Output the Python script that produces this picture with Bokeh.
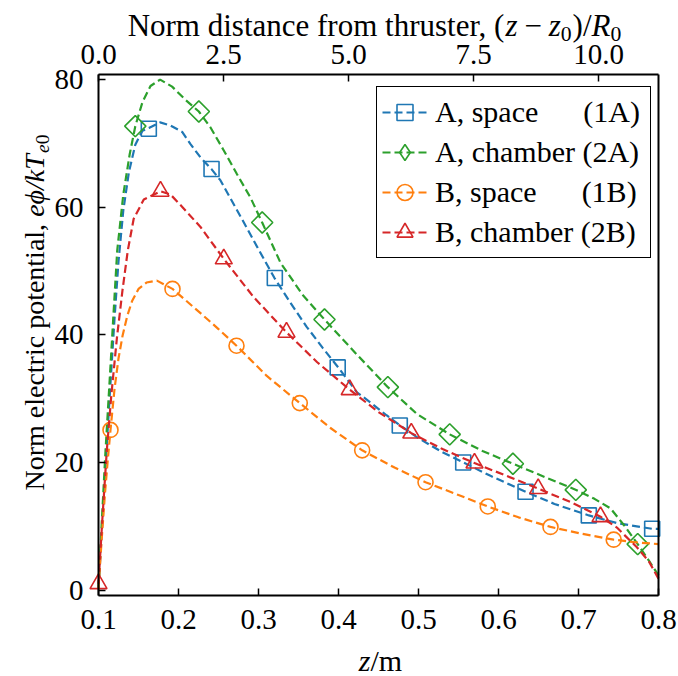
import numpy as np
from bokeh.plotting import figure
from bokeh.models import (Range1d, LinearAxis, FixedTicker, NumeralTickFormatter,
                          Label, Legend, LegendItem)
from bokeh.embed import file_html
from bokeh.resources import INLINE

# ---------------- data ----------------
R0 = 0.0625  # m, normalising length for the top axis
Z0 = 0.1     # m

X_LIM = (0.1, 0.8)
Y_LIM = (-0.85, 80.8)

# A, space (1A)
z_1a = [0.100, 0.105, 0.110, 0.115, 0.120, 0.125, 0.131, 0.138, 0.146, 0.155, 0.163,
        0.177, 0.190, 0.2046, 0.215, 0.2275, 0.241, 0.2525, 0.280, 0.300, 0.320, 0.340,
        0.360, 0.380, 0.399, 0.423, 0.440, 0.460, 0.477, 0.500, 0.530, 0.556, 0.590,
        0.634, 0.670, 0.713, 0.748, 0.792, 0.800]
phi_1a = [0.3, 11.0, 22.0, 32.5, 42.5, 51.5, 59.5, 65.5, 69.8, 72.0, 72.4,
          73.3, 72.8, 71.8, 69.9, 67.8, 66.0, 64.2, 58.0, 53.4, 48.9, 45.0,
          41.3, 38.0, 35.0, 31.0, 29.4, 27.4, 25.8, 23.8, 21.6, 20.0, 17.9,
          15.4, 13.5, 11.7, 10.5, 9.6, 9.6]
z_1a_mk = [0.1629, 0.2413, 0.3204, 0.399, 0.4766, 0.5559, 0.6338, 0.7129, 0.7921]
phi_1a_mk = [72.3, 66.0, 48.9, 34.9, 25.8, 20.0, 15.4, 11.7, 9.6]

# A, chamber (2A)
z_2a = [0.100, 0.104, 0.1088, 0.114, 0.119, 0.1234, 0.131, 0.139, 0.146, 0.155, 0.165,
        0.177, 0.192, 0.209, 0.2254, 0.240, 0.2566, 0.273, 0.290, 0.3046, 0.3275, 0.355,
        0.3825, 0.423, 0.4617, 0.498, 0.539, 0.580, 0.618, 0.660, 0.697, 0.720, 0.740,
        0.7567, 0.774, 0.788, 0.800]
phi_2a = [0.3, 10.5, 21.9, 33.0, 43.8, 53.2, 62.0, 68.3, 72.7, 76.5, 79.0,
          80.0, 78.9, 76.8, 75.0, 72.5, 68.9, 65.2, 61.5, 57.6, 51.3, 46.3,
          42.4, 36.9, 31.8, 27.6, 24.4, 21.8, 19.8, 17.6, 15.7, 14.3, 12.8,
          10.2, 7.2, 4.6, 2.3]
z_2a_mk = [0.146, 0.2254, 0.3046, 0.3825, 0.4617, 0.539, 0.618, 0.6966, 0.774]
phi_2a_mk = [72.7, 75.0, 57.6, 42.4, 31.8, 24.4, 19.8, 15.7, 7.2]

# B, space (1B)
z_1b = [0.100, 0.104, 0.108, 0.112, 0.115, 0.120, 0.125, 0.130, 0.136, 0.142, 0.150,
        0.160, 0.173, 0.1925, 0.210, 0.2275, 0.250, 0.2725, 0.310, 0.3516, 0.390,
        0.4296, 0.470, 0.5088, 0.550, 0.5866, 0.625, 0.665, 0.705, 0.744, 0.770, 0.800]
phi_1b = [0.3, 8.0, 15.0, 21.0, 25.1, 31.5, 36.3, 39.8, 43.0, 45.3, 47.2,
          48.2, 48.5, 47.2, 45.3, 43.4, 40.9, 38.3, 33.6, 29.3, 25.4,
          21.9, 19.2, 16.9, 14.9, 13.1, 11.4, 9.9, 8.8, 7.9, 7.5, 7.2]
z_1b_mk = [0.115, 0.1925, 0.2725, 0.3516, 0.4296, 0.5088, 0.5866, 0.665, 0.744]
phi_1b_mk = [25.1, 47.2, 38.3, 29.3, 21.9, 16.9, 13.1, 9.9, 7.9]

# B, chamber (2B)
z_2b = [0.100, 0.105, 0.1104, 0.116, 0.123, 0.130, 0.1366, 0.144, 0.1566, 0.1775, 0.190,
        0.205, 0.2275, 0.2566, 0.294, 0.335, 0.3734, 0.414, 0.450, 0.491, 0.530,
        0.570, 0.610, 0.6496, 0.690, 0.7275, 0.748, 0.773, 0.788, 0.800]
phi_2b = [1.0, 11.5, 21.9, 30.5, 39.5, 47.0, 53.2, 58.2, 61.2, 62.5, 62.0,
          60.0, 56.9, 51.9, 45.9, 40.4, 35.7, 31.4, 27.9, 24.6, 22.1,
          19.9, 17.9, 15.9, 13.8, 11.5, 9.8, 6.7, 4.5, 1.8]
z_2b_mk = [0.100, 0.1775, 0.2566, 0.335, 0.414, 0.491, 0.570, 0.6496, 0.7275]
phi_2b_mk = [1.0, 62.5, 51.9, 40.4, 31.4, 24.6, 19.9, 15.9, 11.5]

labels = ["A, space\u00a0\u00a0\u00a0\u00a0\u00a0\u00a0(1A)",
          "A, chamber (2A)",
          "B, space\u00a0\u00a0\u00a0\u00a0\u00a0\u00a0(1B)",
          "B, chamber (2B)"]
x_ticks = [0.1, 0.2, 0.3, 0.4, 0.5, 0.6, 0.7, 0.8]
y_ticks = [0, 20, 40, 60, 80]
top_ticks = [0.0, 2.5, 5.0, 7.5, 10.0]

# ---------------- layout (pixel box of the axes inside the canvas) ----------------
W, H = 678, 676
BOX_L, BOX_R, BOX_T, BOX_B = 98, 658, 74, 595
sx = (BOX_R - BOX_L) / (X_LIM[1] - X_LIM[0])
sy = (BOX_B - BOX_T) / (Y_LIM[1] - Y_LIM[0])
x_range = Range1d(X_LIM[0] - BOX_L / sx, X_LIM[1] + (W - BOX_R) / sx)
y_range = Range1d(Y_LIM[0] - (H - BOX_B) / sy, Y_LIM[1] + BOX_T / sy)

FONT = "Liberation Serif"
BLUE, ORANGE, GREEN, RED = "#1f77b4", "#ff7f0e", "#2ca02c", "#d62728"

p = figure(width=W, height=H, output_backend="svg", toolbar_location=None,
           x_range=x_range, y_range=y_range,
           x_axis_location=None, y_axis_location=None,
           min_border_left=0, min_border_right=0, min_border_top=0,
           min_border_bottom=0)
p.xgrid.visible = False
p.ygrid.visible = False
p.outline_line_color = None
p.background_fill_color = "white"
p.border_fill_color = "white"

p.extra_x_ranges = {"norm": Range1d((x_range.start - Z0) / R0, (x_range.end - Z0) / R0)}

bottom_axis = LinearAxis(fixed_location=Y_LIM[0], bounds=X_LIM,
                         ticker=FixedTicker(ticks=x_ticks),
                         formatter=NumeralTickFormatter(format="0.0"))
top_axis = LinearAxis(x_range_name="norm", fixed_location=Y_LIM[1],
                      bounds=((X_LIM[0] - Z0) / R0, (X_LIM[1] - Z0) / R0),
                      ticker=FixedTicker(ticks=top_ticks),
                      formatter=NumeralTickFormatter(format="0.0"))
left_axis = LinearAxis(fixed_location=X_LIM[0], bounds=Y_LIM,
                       ticker=FixedTicker(ticks=y_ticks))
right_axis = LinearAxis(fixed_location=X_LIM[1], bounds=Y_LIM,
                        ticker=FixedTicker(ticks=[]))
p.add_layout(bottom_axis, "below")
p.add_layout(top_axis, "above")
p.add_layout(left_axis, "left")
p.add_layout(right_axis, "right")

for ax in [bottom_axis, top_axis, left_axis, right_axis]:
    ax.axis_line_width = 2
    ax.axis_line_color = "black"
    ax.major_tick_in = 7
    ax.major_tick_out = 0
    ax.major_tick_line_width = 1.5
    ax.major_tick_line_color = "black"
    ax.minor_tick_in = 0
    ax.minor_tick_out = 0
    ax.minor_tick_line_color = None
    ax.major_label_text_font = FONT
    ax.major_label_text_font_size = "29px"
    ax.major_label_text_color = "black"
    ax.axis_label = None
right_axis.major_label_text_alpha = 0
right_axis.major_tick_line_color = None
bottom_axis.major_label_standoff = 14
left_axis.major_label_standoff = 15
top_axis.major_label_standoff = 11

series = [
    (z_1a, phi_1a, z_1a_mk, phi_1a_mk, BLUE, "square", 15, 0.0),
    (z_2a, phi_2a, z_2a_mk, phi_2a_mk, GREEN, "square", 15, np.pi / 4),
    (z_1b, phi_1b, z_1b_mk, phi_1b_mk, ORANGE, "circle", 15, 0.0),
    (z_2b, phi_2b, z_2b_mk, phi_2b_mk, RED, "triangle", 17, 0.0),
]
items = []
for (zc, pc, zm, pm, col, mk, sz, ang), lab in zip(series, labels):
    lr = p.line(zc, pc, line_color=col, line_width=2.2, line_dash="8 4")
    sr = p.scatter(zm, pm, marker=mk, size=sz, angle=ang, fill_color=None,
                   line_color=col, line_width=1.6)
    rends = [lr, sr]
    if ang != 0.0:
        # legend sample only (legend glyphs are drawn unrotated): a diamond marker
        dr = p.scatter([np.nan], [np.nan], marker="diamond", size=sz, fill_color=None,
                       line_color=col, line_width=1.6)
        rends = [lr, dr]
    items.append(LegendItem(label=lab, renderers=rends))

legend = Legend(items=items, location=(376, H - 258), orientation="vertical",
                label_text_font=FONT, label_text_font_size="30px",
                label_text_color="black", glyph_width=45, glyph_height=40,
                label_height=40, label_width=210, label_standoff=8,
                padding=5, spacing=0, margin=0,
                border_line_color="black", border_line_width=1.3,
                border_line_alpha=1, background_fill_color="white",
                background_fill_alpha=1)
p.add_layout(legend)

# ---------------- composed axis labels (mixed roman / italic) ----------------
W_R = {' ': 250, '(': 333, ')': 333, '/': 278, ',': 250, '\u2212': 564, '0': 500,
       'N': 722, 'o': 500, 'r': 333, 'm': 778, 'd': 500, 'i': 278, 's': 389,
       't': 278, 'a': 444, 'n': 500, 'c': 444, 'e': 444, 'f': 333, 'h': 500,
       'u': 500, 'l': 278, 'p': 500}
W_I = {'z': 389, 'e': 444, 'k': 444, 'T': 556, 'R': 611, '\u03d5': 560, '/': 278, '0': 500}
K_ANCHOR = 0.22  # label anchor sits this many em above the text baseline


def seg_w(text, italic, size):
    table = W_I if italic else W_R
    return sum(table.get(ch, 500) for ch in text) * size / 1000.0


def compose(segs, size, start, base, vertical=False):
    """segs: (text, italic, scale, shift_em, gap_before_em).
    horizontal: start = canvas x, base = canvas baseline y (from top).
    vertical: start = screen y (from bottom), base = canvas baseline x."""
    pos = start
    for text, italic, scale, shift, gap in segs:
        pos += gap * size
        fs = size * scale
        if vertical:
            lab = Label(x=base + shift * size - K_ANCHOR * fs, y=pos,
                        x_units="screen", y_units="screen",
                        text=text, angle=90, angle_units="deg")
        else:
            lab = Label(x=pos, y=H - (base + shift * size) + K_ANCHOR * fs,
                        x_units="screen", y_units="screen", text=text)
        lab.text_font = FONT
        lab.text_font_size = f"{fs:.1f}px"
        lab.text_font_style = "italic" if italic else "normal"
        lab.text_color = "black"
        lab.text_align = "left"
        lab.text_baseline = "alphabetic"
        p.add_layout(lab)
        pos += seg_w(text, italic, fs)


def total(segs, size):
    return sum(g * size + seg_w(t, it, size * sc) for t, it, sc, sh, g in segs)


TOP_SIZE, LEFT_SIZE, BOT_SIZE = 31, 28, 30

top_segs = [("Norm distance from thruster, (", False, 1, 0, 0),
            ("z", True, 1, 0, 0),
            ("\u2212", False, 1, 0, 0.22),
            ("z", True, 1, 0, 0.22),
            ("0", False, 0.7, 0.2, 0),
            (")/", False, 1, 0, 0.03),
            ("R", True, 1, 0, 0),
            ("0", False, 0.7, 0.2, 0)]
tw = total(top_segs, TOP_SIZE)
compose(top_segs, TOP_SIZE, 374 - tw / 2, 32)

bot_segs = [("z", True, 1, 0, 0), ("/m", False, 1, 0, 0)]
bw = total(bot_segs, BOT_SIZE)
compose(bot_segs, BOT_SIZE, 380 - bw / 2, 667)

left_segs = [("Norm electric potential,", False, 1, 0, 0),
             ("e\u03d5/kT", True, 1, 0, 0.25),
             ("e", True, 0.7, 0.2, 0),
             ("0", False, 0.7, 0.2, 0)]
lw_ = total(left_segs, LEFT_SIZE)
compose(left_segs, LEFT_SIZE, (H - 312) - lw_ / 2, 40.5, vertical=True)

open("out.html", "w").write(file_html(p, INLINE))
